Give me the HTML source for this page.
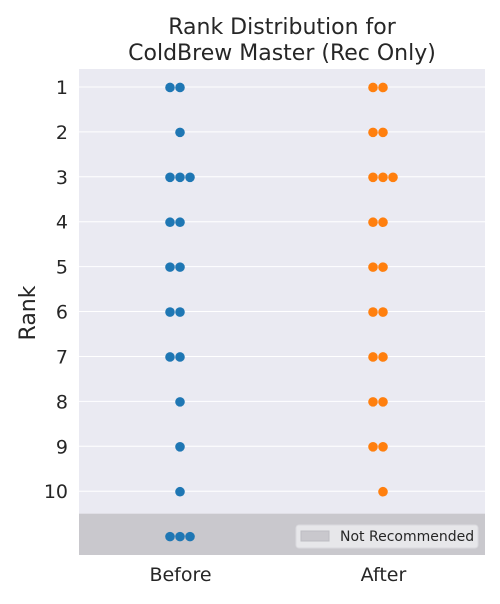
<!DOCTYPE html>
<html><head><meta charset="utf-8"><style>
body{margin:0;background:#fff;font-family:"DejaVu Sans","Liberation Sans",sans-serif}
</style></head><body>
<svg id="chart" width="500" height="600" xmlns="http://www.w3.org/2000/svg" font-family="DejaVu Sans, Liberation Sans, sans-serif">
<text x="282" y="34" text-anchor="middle" font-size="22" fill="#262626">Rank Distribution for</text>
<text x="282" y="60" text-anchor="middle" font-size="22" fill="#262626">ColdBrew Master (Rec Only)</text>
<text transform="translate(35,313) rotate(-90)" text-anchor="middle" font-size="22" fill="#262626">Rank</text>
<g id="plot"></g>
</svg>
<script>
const categories = ["Before","After"];
const tickLabels = ["1","2","3","4","5","6","7","8","9","10"];
const notRecRank = 11;
const beforeRanks = [1,1,2,3,3,3,4,4,5,5,6,6,7,7,8,9,10,11,11,11];
const afterRanks = [1,1,2,2,3,3,3,4,4,5,5,6,6,7,7,8,8,9,9,10];
const colors = ["#1f77b4","#ff7f0e"];
const NS="http://www.w3.org/2000/svg";
const L=79,R=485,T=69,B=555;
const yMin=0.6,yMax=11.42;
const y=v=>T+(v-yMin)/(yMax-yMin)*(B-T);
const xc=i=>L+(R-L)*(i+0.5)/categories.length;
const g=document.getElementById('plot');
function mk(t,a){const e=document.createElementNS(NS,t);for(const k in a)e.setAttribute(k,a[k]);g.appendChild(e);return e;}
let e=mk('rect',{x:L,y:T,width:R-L,height:B-T,fill:'#eaeaf2'});


e=mk('rect',{x:L,y:y(10.5),width:R-L,height:B-y(10.5),fill:'#c9c8cd'});


tickLabels.forEach((t,i)=>{
 const v=i+1;
 if(v<=10){const l=mk('line',{x1:L,x2:R,y1:y(v),y2:y(v),stroke:'#fff','stroke-width':1});
 
 }
 const tx=mk('text',{x:68,y:y(v)+7,'text-anchor':'end','font-size':19,fill:'#262626'});tx.textContent=t;
 
 
});
categories.forEach((c,i)=>{
 const tx=mk('text',{x:xc(i),y:581,'text-anchor':'middle','font-size':19,fill:'#262626'});tx.textContent=c;
 
 
});
[beforeRanks,afterRanks].forEach((arr,i)=>{
 const counts={};
 arr.forEach(v=>{counts[v]=(counts[v]||0)+1;});
 Object.keys(counts).forEach(k=>{
  const n=counts[k];
  const offs=n===1?[0]:n===2?[-10,0]:[-10,0,10];
  for(let j=0;j<n;j++){
   const off=j<offs.length?offs[j]:10*j;
   const d=mk('circle',{cx:xc(i)+off-0.5,cy:y(+k)+0.5,r:4.8,fill:colors[i]});
   
   
  }
 });
});
e=mk('rect',{x:296,y:525,width:182,height:23,rx:3,fill:'#ebebee',stroke:'#dcdce0','stroke-width':1,opacity:0.9});


e=mk('rect',{x:301,y:531,width:28,height:10,fill:'#c9c8cd',stroke:'#bdbdc2'});


e=mk('text',{x:340,y:541,'font-size':14,fill:'#262626'});e.textContent='Not Recommended';


</script>
</body></html>
